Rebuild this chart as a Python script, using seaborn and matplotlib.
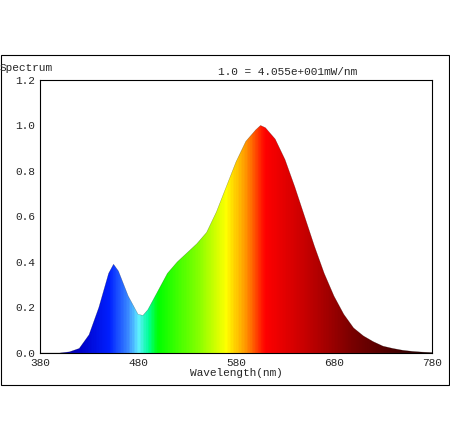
import numpy as np
import matplotlib
matplotlib.use("Agg")
import matplotlib.pyplot as plt
from matplotlib.colors import LinearSegmentedColormap
from matplotlib.patches import Rectangle
import seaborn as sns

# spectrum (relative power)
wavelength = [380, 400, 410, 420, 430, 440, 450, 455, 460, 470, 480, 485, 490, 500,
              510, 520, 530, 540, 550, 560, 570, 580, 590, 600, 605, 610, 620, 630,
              640, 650, 660, 670, 680, 690, 700, 710, 720, 730, 740, 750, 760, 770, 780]
power = [0.0, 0.0, 0.005, 0.02, 0.08, 0.2, 0.35, 0.39, 0.36, 0.25, 0.17, 0.165, 0.19, 0.27,
         0.35, 0.40, 0.44, 0.48, 0.53, 0.62, 0.73, 0.84, 0.93, 0.98, 1.0, 0.99, 0.94, 0.85,
         0.73, 0.60, 0.47, 0.35, 0.25, 0.17, 0.11, 0.075, 0.05, 0.03, 0.02, 0.012, 0.007, 0.004, 0.002]
x_ticks = [380, 480, 580, 680, 780]
y_ticks = [0.0, 0.2, 0.4, 0.6, 0.8, 1.0, 1.2]

# wavelength -> colour stops
stops = [(380, "#12006a"), (420, "#0000c8"), (450, "#0020ff"), (470, "#3c8cff"),
         (480, "#60f0ff"), (490, "#00ff96"), (500, "#00ff00"), (540, "#80ff00"),
         (570, "#ffff00"), (590, "#ff9600"), (610, "#ff0000"), (650, "#c80000"),
         (700, "#780000"), (780, "#1e0000")]
cmap = LinearSegmentedColormap.from_list(
    "spec", [((w - 380) / 400, c) for w, c in stops])

sns.set_style("white")
plt.rcParams["font.family"] = ["Liberation Mono", "DejaVu Sans Mono"]

fig = plt.figure(figsize=(4.5, 4.44), dpi=100)
ax = fig.add_axes([0.089, 0.205, 0.871, 0.615])

poly = ax.fill_between(wavelength, power, 0, color="none", lw=0)
grad = np.linspace(0, 1, 400).reshape(1, -1)
img = ax.imshow(grad, cmap=cmap, aspect="auto", extent=[380, 780, 0, 1.2],
                origin="lower")
clip = poly.get_paths()[0]
img.set_clip_path(clip, transform=ax.transData)
sns.lineplot(x=wavelength, y=power, ax=ax, color="k", lw=0.3, alpha=0.4)

ax.set_xlim(380, 780)
ax.set_ylim(0, 1.2)
ax.set_xticks(x_ticks)
ax.set_yticks(y_ticks)
ax.set_yticklabels([f"{v:.1f}" for v in y_ticks])
ax.tick_params(labelsize=8, length=3, direction="in", color="k")
for s in ax.spines.values():
    s.set_color("k")
    s.set_linewidth(0.8)
ax.set_xlabel("Wavelength(nm)", fontsize=8, labelpad=0)

fig.patches.append(Rectangle((0.002, 1 - 385 / 444), 0.995, 330 / 444,
                             transform=fig.transFigure, fill=False,
                             edgecolor="k", lw=0.8))
fig.text(0.0, 1 - 68 / 444, "Spectrum", fontsize=8, va="center")
fig.text(0.485, 1 - 72 / 444, "1.0 = 4.055e+001mW/nm", fontsize=8, va="center")

fig.savefig("out.png", dpi=100)
